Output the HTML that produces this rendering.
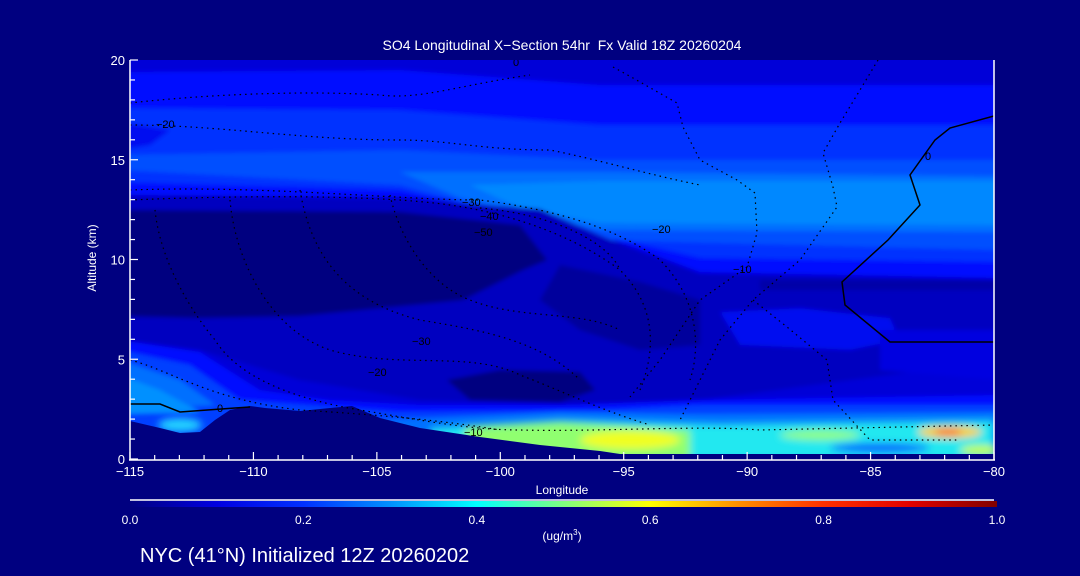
<!DOCTYPE html>
<html><head><meta charset="utf-8"><style>
html,body{margin:0;padding:0;background:#000080;}
svg{display:block;font-family:"Liberation Sans",sans-serif;}
text{fill:#fff;}
</style></head><body>
<svg id="chart" width="1080" height="576" viewBox="0 0 1080 576" xmlns="http://www.w3.org/2000/svg">
<defs>
 <clipPath id="plotclip"><rect x="130" y="60" width="864" height="400"/></clipPath>
 <filter id="bs" x="-20%" y="-20%" width="140%" height="140%"><feGaussianBlur stdDeviation="2"/></filter>
 <filter id="bl2" x="-30%" y="-30%" width="160%" height="160%"><feGaussianBlur stdDeviation="4"/></filter>
 <linearGradient id="cbar" x1="0" x2="1" y1="0" y2="0">
  <stop offset="0" stop-color="#000080"/>
  <stop offset="0.1" stop-color="#0000e0"/>
  <stop offset="0.2" stop-color="#0030ff"/>
  <stop offset="0.3" stop-color="#0090ff"/>
  <stop offset="0.4" stop-color="#00ffff"/>
  <stop offset="0.5" stop-color="#80ff80"/>
  <stop offset="0.6" stop-color="#ffff00"/>
  <stop offset="0.7" stop-color="#ff9000"/>
  <stop offset="0.8" stop-color="#ff3000"/>
  <stop offset="0.9" stop-color="#e00000"/>
  <stop offset="1" stop-color="#800000"/>
 </linearGradient>
</defs>
<rect width="1080" height="576" fill="#000080"/>
<text x="562" y="50" font-size="14" text-anchor="middle" xml:space="preserve">SO4 Longitudinal X−Section 54hr  Fx Valid 18Z 20260204</text>

<g clip-path="url(#plotclip)">
 <rect x="130" y="60" width="864" height="400" fill="#0000d8"/>
 <g filter="url(#bs)">
  <polygon fill="#0010ff" points="120,72 400,70 600,85 1000,85 1000,278 700,272 620,242 540,207 400,197 120,195"/>
  <polygon fill="#0030ff" points="120,108 400,110 600,125 1000,125 1000,262 700,258 600,235 400,190 120,182"/>
  <polygon fill="#0010f0" points="120,122 170,130 150,145 120,150"/>
  <polygon fill="#0050ff" points="120,155 400,150 600,160 1000,160 1000,250 600,240 450,198 400,185 120,170"/>
  <polygon fill="#0070ff" points="400,172 600,172 1000,176 1000,232 600,230 460,198"/>
  <polygon fill="#0088ff" points="470,185 600,181 1000,181 1000,225 600,223 520,208"/>
  <polygon fill="#0000c0" points="120,195 400,199 540,209 620,244 700,274 1000,280 1000,360 700,400 600,405 420,400 300,380 200,350 120,340"/>
  <polygon fill="#000080" points="120,210 400,212 520,225 547,260 523,270 463,300 300,316 200,318 120,316"/>
  <polygon fill="#00009c" points="560,265 640,282 700,300 700,345 640,350 580,330 540,300"/>
  <rect x="760" y="280" width="240" height="10" fill="#0000a8"/>
  <polygon fill="#0008f0" points="720,312 800,308 890,318 900,340 850,350 740,345"/>
  <polygon fill="#0000e0" points="880,330 1000,330 1000,380 880,370"/>
  <polygon fill="#000080" points="447,380 500,370 580,372 595,390 560,402 470,400"/>
  <polygon fill="#0010ff" points="120,340 200,352 260,390 330,400 420,405 560,405 700,400 1000,395 1000,460 120,460"/>
  <polygon fill="#0040ff" points="120,350 190,365 240,400 400,412 600,410 700,405 1000,405 1000,460 120,460"/>
  <polygon fill="#0070ff" points="120,360 180,380 215,405 120,410"/>
  <polygon fill="#0090ff" points="120,375 160,390 200,412 120,414"/>
  <polygon fill="#0070ff" points="380,420 560,412 700,414 1000,412 1000,460 380,460"/>
 </g>
 <g filter="url(#bl2)">
  <polygon points="430,428 560,420 720,424 994,420 994,460 430,460" fill="#20e8f0"/>
  <polygon points="465,427 560,422 690,430 690,460 465,460" fill="#90ff70"/>
  <ellipse cx="630" cy="440" rx="50" ry="9" fill="#f0ff20"/>
  <ellipse cx="820" cy="435" rx="40" ry="5" fill="#90ff80"/>
  <ellipse cx="950" cy="432" rx="32" ry="6" fill="#ffd000"/>
  <ellipse cx="948" cy="432" rx="14" ry="3" fill="#ff5000"/>
  <ellipse cx="880" cy="448" rx="50" ry="5" fill="#0060ff"/>
  <ellipse cx="980" cy="450" rx="20" ry="5" fill="#c0ff40"/>
  <ellipse cx="180" cy="425" rx="22" ry="7" fill="#20d0ff"/>
 </g>
 <polygon fill="#000080" points="130,421 160,428 180,433 200,432 215,420 230,410 250,406 265,408 300,411 330,408 352,406 380,418 420,428 480,437 540,445 600,451 620,454 994,454 994,462 130,462"/>
 <g fill="none" stroke="#000" stroke-width="1.2">
  <path d="M994,116 L950,128 L935,140 L910,175 L920,205 L888,240 L842,282 L845,305 L890,342 L994,342" stroke-width="1.5"/>
  <path d="M130,404 L160,404 L180,412 L235,408 L250,407" stroke-width="1.5"/>
  <g stroke-dasharray="1.5,4">
   <path d="M130,103 C200,95 300,90 380,95 C420,100 460,85 530,75"/>
   <path d="M130,125 C220,125 300,140 400,140 C450,140 480,150 550,150 C600,160 650,175 700,185"/>
   <path d="M613,67 L633,78 L677,103 L683,127 L700,160 L737,180 L755,193 L757,233 L747,267 L700,300 L660,360 L630,397"/>
   <path d="M878,60 L860,90 L840,123 L823,153 L833,187 L837,207 L800,260 L753,300 L720,340 L700,380 L680,420"/>
   <path d="M753,300 L787,327 L827,360 L833,400 L870,440 L960,440"/>
   <path d="M130,190 C260,185 400,200 480,200 C560,210 620,230 660,260 C700,300 700,350 690,380"/>
   <path d="M130,200 C250,195 380,195 450,205 C520,215 580,240 620,270 C650,300 660,340 640,390"/>
   <path d="M155,210 C160,260 190,310 215,340 C240,380 300,400 360,410 C420,420 470,430 520,430 C600,432 700,425 760,430 L994,425"/>
   <path d="M230,200 C235,260 270,330 330,350 C400,370 470,350 520,375 C560,390 600,410 650,425"/>
   <path d="M300,190 C310,250 340,300 420,320 C480,330 540,340 580,380"/>
   <path d="M390,195 C400,240 430,285 470,300 C520,320 580,310 620,330"/>
   <path d="M130,360 C170,370 210,400 300,410 C380,415 440,420 500,430"/>
   <path d="M480,208 C560,215 610,245 620,270"/>
  </g>
 </g>
 <g font-size="11">
  <text x="156" y="128" style="fill:#000">−20</text>
  <text x="462" y="206" style="fill:#000">−30</text>
  <text x="480" y="220" style="fill:#000">−40</text>
  <text x="474" y="236" style="fill:#000">−50</text>
  <text x="652" y="233" style="fill:#000">−20</text>
  <text x="412" y="345" style="fill:#000">−30</text>
  <text x="368" y="376" style="fill:#000">−20</text>
  <text x="464" y="436" style="fill:#000">−10</text>
  <text x="217" y="412" style="fill:#000">0</text>
  <text x="925" y="160" style="fill:#000">0</text>
  <text x="513" y="66" style="fill:#000">0</text>
  <text x="733" y="273" style="fill:#000">−10</text>
 </g>
</g>
<g id="axes" stroke="#fff" fill="none" stroke-width="1.5">
 <line x1="130" y1="60" x2="130" y2="460"/>
 <line x1="129" y1="460" x2="995" y2="460"/>
 <line x1="994" y1="60" x2="994" y2="460"/>
</g>
<g id="xticks"></g>
<g id="yticks"></g>
<text x="562" y="494" font-size="12" text-anchor="middle">Longitude</text>
<text transform="translate(96,258) rotate(-90)" font-size="12" text-anchor="middle">Altitude (km)</text>
<line x1="130" y1="500" x2="994" y2="500" stroke="#fff" stroke-width="1.5"/>
<rect x="130" y="501" width="867" height="6" fill="url(#cbar)"/>
<g id="cbticks"></g>
<text x="562" y="540" font-size="12" text-anchor="middle">(ug/m<tspan font-size="8" dy="-5">3</tspan><tspan dy="5">)</tspan></text>
<text x="140" y="562" font-size="20">NYC (41°N) Initialized 12Z 20260202</text>
<script>
const xTickLabels = [-115, -110, -105, -100, -95, -90, -85, -80];
const yTickLabels = [0, 5, 10, 15, 20];
const cbTickLabels = [0.0, 0.2, 0.4, 0.6, 0.8, 1.0];
const NS = "http://www.w3.org/2000/svg";
const xs = v => 130 + (v + 115) / 35 * 864;
const ys = v => 459 - v / 20 * 399;
const cs = v => 130 + v * 867;
function mk(tag, attrs, parent) { const e = document.createElementNS(NS, tag); for (const k in attrs) e.setAttribute(k, attrs[k]); parent.appendChild(e); return e; }
const gx = document.getElementById('xticks');
for (let v = -115; v <= -80; v += 1) {
  const major = v % 5 === 0;
  const t = mk('line', {x1: xs(v), x2: xs(v), y1: 460, y2: 460 - (major ? 8 : 5), stroke: '#fff', 'stroke-width': 1.2}, gx);
  
  
}
xTickLabels.forEach(v => {
  const t = mk('text', {x: xs(v), y: 476, 'font-size': 13, 'text-anchor': 'middle'}, gx);
  t.textContent = String(v).replace('-', '−');
  
  
});
const gy = document.getElementById('yticks');
for (let v = 0; v <= 20; v += 1) {
  const major = v % 5 === 0;
  const t = mk('line', {x1: 130, x2: 130 + (major ? 8 : 5), y1: ys(v), y2: ys(v), stroke: '#fff', 'stroke-width': 1.2}, gy);
  
  
}
yTickLabels.forEach(v => {
  const t = mk('text', {x: 125, y: ys(v) + 5, 'font-size': 13, 'text-anchor': 'end'}, gy);
  t.textContent = v;
  
  
});
const gc = document.getElementById('cbticks');
cbTickLabels.forEach(v => {
  const t = mk('text', {x: cs(v), y: 524, 'font-size': 12, 'text-anchor': 'middle'}, gc);
  t.textContent = v.toFixed(1);
  
  
});
</script>
</svg>
</body></html>
